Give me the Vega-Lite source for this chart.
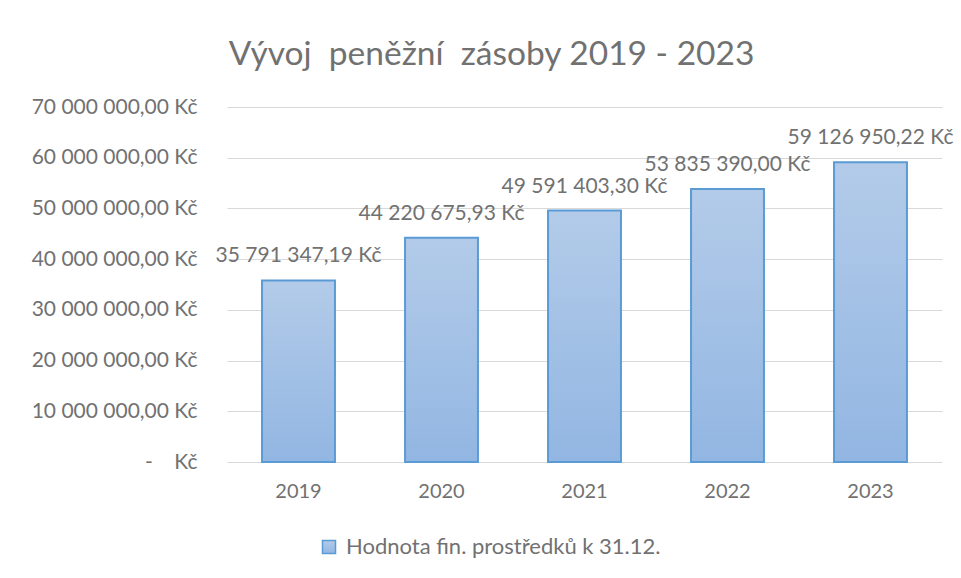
{
  "$schema": "https://vega.github.io/schema/vega-lite/v6.json",
  "width": 715,
  "height": 355,
  "autosize": {"type": "none"},
  "padding": {"left": 227, "top": 107, "right": 19, "bottom": 116},
  "background": "white",
  "config": {
    "locale": {"number": {"decimal": ",", "thousands": " ", "grouping": [3], "currency": ["", " Kč"]}},
    "font": "Lato",
    "view": {"stroke": null}
  },
  "title": {
    "text": "Vývoj\u00a0 peněžní\u00a0 zásoby 2019 - 2023",
    "fontSize": 33.5,
    "fontWeight": "normal",
    "color": "#717171",
    "frame": "group",
    "anchor": "middle",
    "dx": -93,
    "offset": 24
  },
  "data": {
    "values": [
      {"rok": "2019", "hodnota": 35791347.19, "serie": "Hodnota fin. prostředků k 31.12."},
      {"rok": "2020", "hodnota": 44220675.93, "serie": "Hodnota fin. prostředků k 31.12."},
      {"rok": "2021", "hodnota": 49591403.30, "serie": "Hodnota fin. prostředků k 31.12."},
      {"rok": "2022", "hodnota": 53835390.00, "serie": "Hodnota fin. prostředků k 31.12."},
      {"rok": "2023", "hodnota": 59126950.22, "serie": "Hodnota fin. prostředků k 31.12."}
    ]
  },
  "encoding": {
    "x": {
      "field": "rok",
      "type": "nominal",
      "scale": {"paddingInner": 0.49, "paddingOuter": 0.245},
      "axis": {
        "title": null,
        "labelAngle": 0,
        "domain": false,
        "ticks": false,
        "labelPadding": 19,
        "labelFontSize": 20,
        "labelColor": "#717171"
      }
    },
    "y": {
      "field": "hodnota",
      "type": "quantitative",
      "scale": {"domain": [0, 70000000], "nice": false},
      "axis": {
        "title": null,
        "domain": false,
        "ticks": false,
        "labelPadding": 30,
        "labelFontSize": 21,
        "labelColor": "#717171",
        "gridColor": "#d9d9d9",
        "gridWidth": 1,
        "values": [0, 10000000, 20000000, 30000000, 40000000, 50000000, 60000000, 70000000],
        "format": "$,.2f",
        "labelExpr": "datum.value == 0 ? '-\u00a0\u00a0\u00a0\u00a0Kč' : datum.label"
      }
    }
  },
  "layer": [
    {
      "mark": {
        "type": "bar",
        "fill": {
          "gradient": "linear",
          "x1": 0, "y1": 0, "x2": 0, "y2": 1,
          "stops": [
            {"offset": 0, "color": "#b3cbe9"},
            {"offset": 1, "color": "#92b6e2"}
          ]
        },
        "strokeWidth": 2
      },
      "encoding": {
        "stroke": {
          "field": "serie",
          "type": "nominal",
          "scale": {"range": ["#5b9bd5"]},
          "legend": {
            "title": null,
            "orient": "none",
            "legendX": 91,
            "legendY": 429,
            "direction": "horizontal",
            "symbolType": "square",
            "symbolFillColor": "#a6c3e8",
            "symbolSize": 170,
            "symbolStrokeWidth": 1.5,
            "labelFontSize": 22,
            "labelColor": "#717171",
            "labelLimit": 500,
            "labelOffset": 6
          }
        }
      }
    },
    {
      "mark": {
        "type": "text",
        "baseline": "middle",
        "dy": -24,
        "fontSize": 21,
        "color": "#717171"
      },
      "encoding": {
        "text": {"field": "hodnota", "type": "quantitative", "format": "$,.2f"}
      }
    }
  ]
}
